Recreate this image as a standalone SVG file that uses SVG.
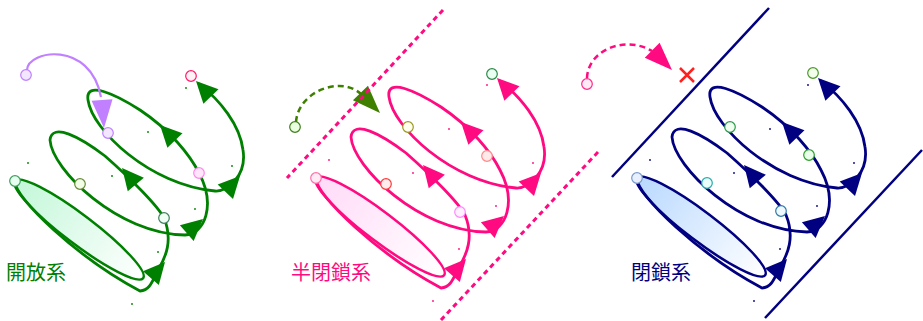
<svg xmlns="http://www.w3.org/2000/svg" width="923" height="321" viewBox="0 0 923 321">
<style>
.helix{fill:none;stroke:currentColor;stroke-width:2.8;stroke-linecap:round;stroke-linejoin:round}
.ah{fill:currentColor;stroke:none}
.spk{fill:currentColor;stroke:none}
.pt{stroke-width:1.2}
.base{stroke-width:2.5}
.lbl{font-family:"Noto Sans CJK JP","Noto Sans CJK SC",sans-serif;font-size:20px}
.wall-d{fill:none;stroke:#ff0a80;stroke-width:3;stroke-dasharray:5 4}
.wall{fill:none;stroke:#000080;stroke-width:2.5}
.inflow{fill:none;stroke-width:2.5;stroke-dasharray:6 4}
</style>
<defs>
<linearGradient id="gG" x1="0" y1="0.5" x2="1" y2="0.5"><stop offset="0" stop-color="#c2f7d8"/><stop offset="1" stop-color="#ffffff"/></linearGradient>
<linearGradient id="gP" x1="0" y1="0.5" x2="1" y2="0.5"><stop offset="0" stop-color="#ffdaf8"/><stop offset="1" stop-color="#ffffff"/></linearGradient>
<linearGradient id="gB" x1="0" y1="0.5" x2="1" y2="0.5"><stop offset="0" stop-color="#b8d8ff"/><stop offset="1" stop-color="#ffffff"/></linearGradient>
<path id="ah" d="M0,0 L-21.5,-10.5 L-21.5,10.5 Z"/>
<path id="ahL" d="M0,0 L-28,-10.5 L-28,10.5 Z"/>
<ellipse id="baseE" cx="79" cy="229.5" rx="80.5" ry="14.5" transform="rotate(37.2 79 229.5)"/>
<g id="helixSet">
<path class="helix" d="M15,181 C14,198 78,258 140,291 C150,290 152,282 158,270 C166,257 173,240 164,218 C158,206 130,178 105,156 C80,137 52,122 50,140 C52,170 118,234 185,235 C205,234 216,205 199,173 C190,155 170,130 140,110 C115,94 85,80 88,100 C92,130 150,185 215,191 C228,192 247,175 243,150 C240,125 220,100 199,84"/>
<use href="#ah" class="ah" transform="translate(165,262) rotate(-49)"/>
<use href="#ah" class="ah" transform="translate(122,168) rotate(-130)"/>
<use href="#ah" class="ah" transform="translate(203,219) rotate(-41)"/>
<use href="#ah" class="ah" transform="translate(160,125) rotate(-134)"/>
<use href="#ah" class="ah" transform="translate(240,176) rotate(-47)"/>
<use href="#ah" class="ah" transform="translate(196,81) rotate(-134)"/>
<g class="spk">
<circle cx="28" cy="163" r="0.9"/><circle cx="148" cy="132" r="0.9"/><circle cx="112" cy="176" r="0.9"/><circle cx="232" cy="166" r="0.9"/>
<circle cx="195" cy="209" r="0.9"/><circle cx="158" cy="252" r="0.9"/><circle cx="132" cy="304" r="0.9"/><circle cx="186" cy="88" r="0.9"/>
</g>
</g>
</defs>

<g id="open-system-base"><use href="#baseE" fill="url(#gG)" stroke="#008000" class="base"/></g>
<g id="semi-closed-system-base"><use href="#baseE" transform="translate(301,-3)" fill="url(#gP)" stroke="#ff0a80" class="base"/></g>
<g id="closed-system-base"><use href="#baseE" transform="translate(622,-3)" fill="url(#gB)" stroke="#000080" class="base"/></g>

<g id="connectors">
<use href="#helixSet" color="#008000"/>
<use href="#helixSet" transform="translate(301,-3)" color="#ff0a80"/>
<use href="#helixSet" transform="translate(622,-3)" color="#000080"/>
<path d="M27,70 C28,50 90,40 101,97" fill="none" stroke="#c080ff" stroke-width="2.2"/>
<use href="#ahL" transform="translate(104,128) rotate(86)" fill="#c080ff"/>
<path class="inflow" d="M296,122 C298,92 340,75 361,94" stroke="#3f7f00"/>
<use href="#ahL" transform="translate(380,113) rotate(45.7)" fill="#3f7f00"/>
<path class="inflow" d="M587,78 C588,50 625,35 652,51" stroke="#ff0a80"/>
<use href="#ahL" transform="translate(672,70) rotate(45)" fill="#ff0a80"/>
</g>

<g id="walls">
<line class="wall-d" x1="443" y1="10" x2="287" y2="178"/>
<line class="wall-d" x1="598" y1="152" x2="441" y2="320"/>
<line class="wall" x1="769" y1="8" x2="612" y2="177"/>
<line class="wall" x1="922" y1="150" x2="765" y2="318"/>
</g>

<g id="blocked"><path d="M680,68 L694,82 M694,68 L680,82" stroke="#ff2020" stroke-width="2.5" fill="none"/></g>

<g id="particles" class="pt">
<g id="p1a"><circle cx="26" cy="75" r="5.3" fill="#f3e6ff" stroke="#c080ff"/></g>
<g id="p1b"><circle cx="108" cy="133" r="5.3" fill="#f3e6ff" stroke="#c080ff"/></g>
<g id="p1c"><circle cx="191" cy="76" r="5.3" fill="#fff2f7" stroke="#ff1a6a"/></g>
<g id="p1d"><circle cx="199" cy="173" r="5.3" fill="#ffe6fb" stroke="#ff88ee"/></g>
<g id="p1e"><circle cx="164" cy="218" r="5.3" fill="#effff3" stroke="#3f7f5f"/></g>
<g id="p1f"><circle cx="80" cy="184" r="5.3" fill="#f2ffe6" stroke="#6a8a3a"/></g>
<g id="p1g"><circle cx="15" cy="181" r="5.3" fill="#e6fff0" stroke="#3f9f5f"/></g>
<g id="p2a"><circle cx="295" cy="127" r="5.3" fill="#eaffe0" stroke="#3f7f1f"/></g>
<g id="p2b"><circle cx="316" cy="178" r="5.3" fill="#ffeaf6" stroke="#ff70a8"/></g>
<g id="p2c"><circle cx="408" cy="127" r="5.3" fill="#fffff0" stroke="#9a9a20"/></g>
<g id="p2d"><circle cx="487" cy="156" r="5.3" fill="#ffeaea" stroke="#ff8a8a"/></g>
<g id="p2e"><circle cx="386" cy="184" r="5.3" fill="#ffecec" stroke="#ff3a3a"/></g>
<g id="p2f"><circle cx="460" cy="212" r="5.3" fill="#fff0ff" stroke="#ff8aff"/></g>
<g id="p2g"><circle cx="492" cy="74" r="5.3" fill="#eafff2" stroke="#2a8a4a"/></g>
<g id="p3a"><circle cx="587" cy="84" r="5.3" fill="#ffeaf6" stroke="#ff2a8a"/></g>
<g id="p3b"><circle cx="637" cy="178" r="5.3" fill="#e8f0ff" stroke="#7a9aca"/></g>
<g id="p3c"><circle cx="730" cy="127" r="5.3" fill="#f0fff0" stroke="#2a9a4a"/></g>
<g id="p3d"><circle cx="809" cy="155" r="5.3" fill="#eaffea" stroke="#2aa02a"/></g>
<g id="p3e"><circle cx="707" cy="183" r="5.3" fill="#eafffa" stroke="#2aaaaa"/></g>
<g id="p3f"><circle cx="781" cy="211" r="5.3" fill="#f0f8ff" stroke="#2a7aaa"/></g>
<g id="p3g"><circle cx="813" cy="73" r="5.3" fill="#f2ffea" stroke="#4a9a2a"/></g>
</g>

<g id="labels" class="lbl">
<text x="6" y="280" fill="#008000">開放系</text>
<text x="291" y="280" fill="#ff0a80">半閉鎖系</text>
<text x="631" y="280" fill="#000080">閉鎖系</text>
</g>
</svg>
